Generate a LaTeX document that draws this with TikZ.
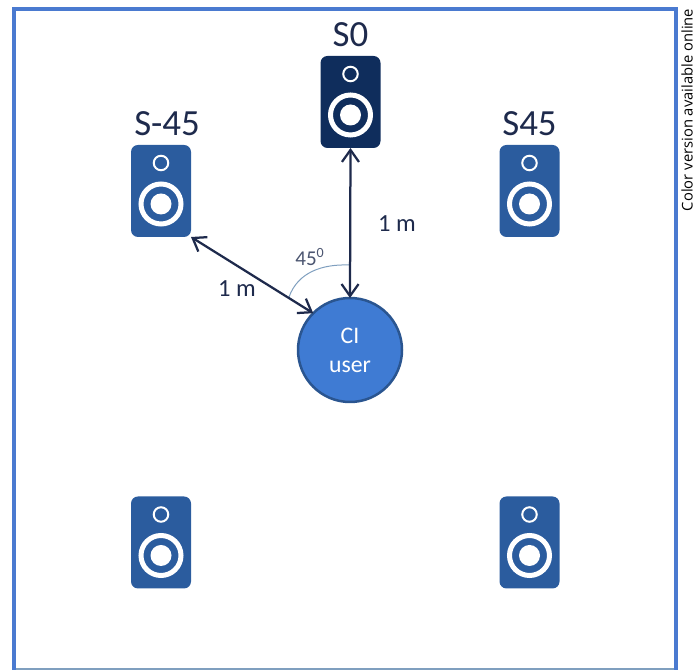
\documentclass[tikz,border=0pt]{standalone}
\usepackage{fontspec}
\setmainfont{Carlito}
\newfontfamily\notefont{Open Sans}
\usetikzlibrary{arrows.meta,positioning}
\definecolor{framecol}{HTML}{4A7AD0}
\definecolor{spkcol}{HTML}{2B5C9E}
\definecolor{frontcol}{HTML}{0F2D5C}
\definecolor{usercol}{HTML}{3F7BD3}
\definecolor{userline}{HTML}{2A5590}
\definecolor{inkcol}{HTML}{1E2A4C}
\definecolor{arccol}{HTML}{7F9FBF}
\tikzset{
  speaker/.style={rectangle, rounded corners=0.14cm, minimum width=1.2cm, minimum height=1.84cm, outer sep=0pt, inner sep=0pt},
  tweeter/.style={circle, draw=white, line width=0.04cm, minimum size=0.29cm, inner sep=0pt},
  woofer/.style={circle, draw=white, line width=0.1cm, minimum size=0.8cm, inner sep=0pt},
  dustcap/.style={circle, fill=white, minimum size=0.42cm, inner sep=0pt},
  spklabel/.style={font=\fontsize{21}{24}\selectfont, text=inkcol, inner sep=0pt},
  distlabel/.style={font=\fontsize{14}{16}\selectfont, text=inkcol, inner sep=0pt},
  dist/.style={{Straight Barb[length=0.24cm,width=0.34cm]}-{Straight Barb[length=0.24cm,width=0.34cm]}, line width=0.045cm, draw=inkcol}
}
\begin{document}
\begin{tikzpicture}
    \useasboundingbox (0, 0) rectangle (13.94, 13.4);

    % frame
    \draw[line width=0.03cm, color=arccol] (0.28, 0.02) -- (13.51, 0.02);
    \draw[line width=0.08cm, color=framecol] (0.28, 0) -- (0.28, 13.21) -- (13.51, 13.21) -- (13.51, 0);
    \node[rotate=90, font=\notefont\fontsize{8.4}{10}\selectfont, inner sep=0pt] (note) at (13.74, 11.2) {Color version available online};

    % speakers
    \foreach \name/\x/\y/\col in {spkfront/7.01/11.36/frontcol, spkleft/3.22/9.58/spkcol, spkright/10.59/9.58/spkcol, spkbackl/3.22/2.55/spkcol, spkbackr/10.59/2.55/spkcol} {
      \node[speaker, fill=\col] (\name) at (\x, \y) {};
      \node[tweeter] (\name t) at ([yshift=-0.36cm]\name.north) {};
      \node[woofer] (\name w) at ([yshift=-1.18cm]\name.north) {};
      \node[dustcap] (\name c) at (\name w) {};
    }

    \node[spklabel, above=0.17cm of spkfront] (sfront) {S0};
    \node[spklabel, above=0.17cm of spkleft, xshift=0.12cm] (sleft) {S-45};
    \node[spklabel, above=0.17cm of spkright] (sright) {S45};

    % listener
    \node[circle, fill=usercol, draw=userline, line width=0.05cm, minimum size=2.08cm, outer sep=0pt, inner sep=0pt, align=center, text=white, font=\fontsize{13.5}{16}\selectfont] (user) at (7, 6.4) {CI\\[0.02cm]user};

    % distances
    \coordinate (arcs) at (5.78, 7.46);
    \coordinate (arce) at (6.98, 8.1);
    \draw[line width=0.02cm, color=arccol] (arcs) to[out=70, in=178] (arce);
    \draw[dist] (spkfront.south) -- (user.north);
    \draw[dist] (spkleft.south east) -- (user.north west);

    \node[distlabel] (dfront) at (7.94, 8.92) {1 m};
    \node[distlabel] (dleft) at (4.74, 7.62) {1 m};
    \node[font=\fontsize{12}{14}\selectfont, text=inkcol!80, inner sep=0pt] (angle) at (6.2, 8.26) {45\textsuperscript{0}};
  \end{tikzpicture}
\end{document}
